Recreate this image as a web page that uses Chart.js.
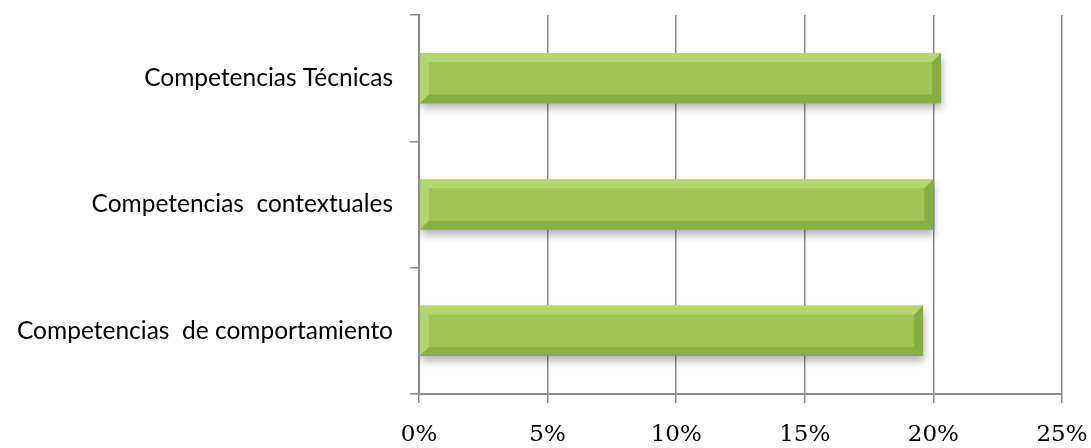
<!DOCTYPE html>
<html>
<head>
<meta charset="utf-8">
<script src="https://cdn.jsdelivr.net/npm/chart.js@4.4.0/dist/chart.umd.min.js"></script>
<style>
  html, body { margin: 0; padding: 0; background: #ffffff; }
  canvas { display: block; }
</style>
</head>
<body>
<canvas id="grafico" width="1091" height="448"></canvas>
<script>
// Categorias (de cima para baixo) e valores em %
const categorias = ['Competencias Técnicas', 'Competencias  contextuales', 'Competencias  de comportamiento'];
const valores = [20.3, 20.0, 19.6];
const ticksX = [0, 5, 10, 15, 20, 25];

const corGrade = '#8c8c8c';

// Plugin simples para sombra e chanfro das barras
const chanfro = {
  id: 'chanfro',
  beforeDatasetDraw(chart) {
    const ctx = chart.ctx;
    ctx.save();
    ctx.shadowColor = 'rgba(0,0,0,0.3)';
    ctx.shadowBlur = 8;
    ctx.shadowOffsetY = 5;
    ctx.shadowOffsetX = 1;
  },
  afterDatasetDraw(chart, args) {
    const ctx = chart.ctx;
    ctx.restore();
    const meta = chart.getDatasetMeta(args.index);
    meta.data.forEach(bar => {
      const p = bar.getProps(['x', 'y', 'base', 'height'], true);
      const top = p.y - p.height / 2;
      const bot = p.y + p.height / 2;
      const l = p.base, r = p.x, b = 9;
      const poly = (pts, cor) => {
        ctx.beginPath();
        ctx.moveTo(pts[0][0], pts[0][1]);
        pts.slice(1).forEach(q => ctx.lineTo(q[0], q[1]));
        ctx.closePath();
        ctx.fillStyle = cor;
        ctx.fill();
      };
      ctx.save();
      poly([[l, top], [r, top], [r - b, top + b], [l + b, top + b]], 'rgba(220,245,160,0.35)');
      poly([[l, bot], [r, bot], [r - b, bot - b], [l + b, bot - b]], 'rgba(90,120,30,0.3)');
      poly([[l, top], [l + b, top + b], [l + b, bot - b], [l, bot]], 'rgba(225,245,175,0.3)');
      poly([[r, top], [r - b, top + b], [r - b, bot - b], [r, bot]], 'rgba(95,125,35,0.35)');
      ctx.restore();
    });
  }
};

document.addEventListener('DOMContentLoaded', () => {
  const ctx = document.getElementById('grafico').getContext('2d');
  new Chart(ctx, {
    type: 'bar',
    data: {
      labels: categorias,
      datasets: [{
        data: valores,
        backgroundColor: (c) => {
          const el = c.element;
          if (!el || el.y === undefined) return '#9fc456';
          const top = el.y - el.height / 2;
          const g = c.chart.ctx.createLinearGradient(0, top, 0, top + el.height);
          g.addColorStop(0, '#bde07a');
          g.addColorStop(0.45, '#a3c95b');
          g.addColorStop(1, '#84a73f');
          return g;
        },
        borderWidth: 0,
        barPercentage: 0.4,
        categoryPercentage: 1
      }]
    },
    plugins: [chanfro],
    options: {
      indexAxis: 'y',
      responsive: false,
      devicePixelRatio: 1,
      animation: false,
      layout: { padding: { top: 15, right: 29, left: 0, bottom: 0 } },
      scales: {
        x: {
          min: 0,
          max: 25,
          afterFit: (s) => { s.height = 54; s.paddingLeft = 0; s.paddingRight = 0; },
          afterBuildTicks: (s) => { s.ticks = ticksX.map(v => ({ value: v })); },
          grid: { color: corGrade, lineWidth: 1.5, tickLength: 9 },
          border: { color: corGrade, width: 2 },
          ticks: {
            padding: 18,
            color: '#000',
            maxRotation: 0,
            font: { family: 'DejaVu Serif', size: 23 },
            callback: (v) => v + '%'
          }
        },
        y: {
          afterFit: (s) => { s.width = 419; s.paddingTop = 0; s.paddingBottom = 0; },
          grid: { drawOnChartArea: false, color: corGrade, lineWidth: 1.5, tickLength: 9 },
          border: { color: corGrade, width: 2 },
          ticks: {
            padding: 17,
            color: '#000',
            font: { family: 'Lato', size: 24.5 }
          }
        }
      },
      plugins: {
        legend: { display: false },
        tooltip: { enabled: false }
      }
    }
  });
});
</script>
</body>
</html>
